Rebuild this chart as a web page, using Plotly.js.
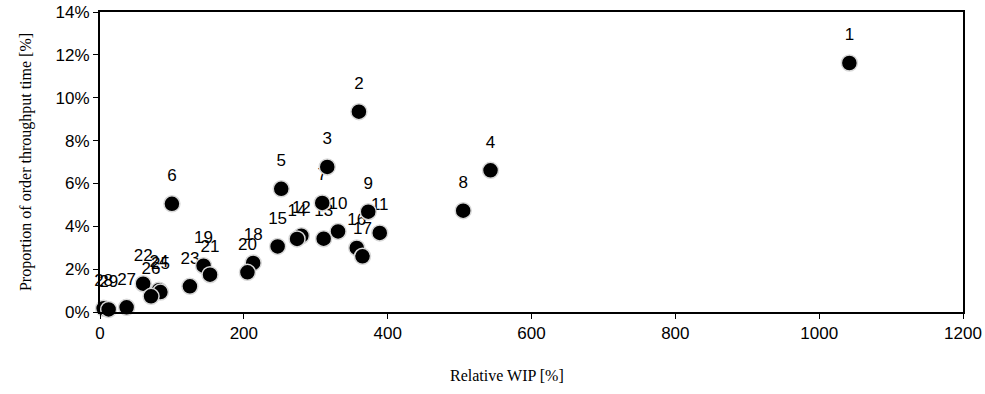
<!DOCTYPE html>
<html>
<head>
<meta charset="utf-8">
<script src="https://cdn.plot.ly/plotly-3.0.1.min.js"></script>
<style>html,body{margin:0;padding:0;background:#fff;}#chart{width:985px;height:394px;}</style>
</head>
<body>
<div id="chart"></div>
<script>
const labels = ['1','2','3','4','5','6','7','8','9','10','11','12','13','14','15','16','17','18','19','20','21','22','23','24','25','26','27','28','29'];
const relativeWip = [1042, 360, 316, 543, 252, 100, 309, 505, 373, 331, 389, 280, 311, 274, 247, 357, 365, 213, 144, 205, 153, 60, 125, 82, 84, 71, 37, 5, 12];
const throughputShare = [11.62, 9.35, 6.77, 6.61, 5.75, 5.05, 5.09, 4.73, 4.68, 3.76, 3.69, 3.56, 3.42, 3.41, 3.06, 2.99, 2.60, 2.29, 2.16, 1.85, 1.74, 1.32, 1.20, 1.02, 0.93, 0.73, 0.22, 0.17, 0.12];
const xTicks = [0, 200, 400, 600, 800, 1000, 1200];
const yTicks = [0, 2, 4, 6, 8, 10, 12, 14];

const sans = 'Liberation Sans, Arial, sans-serif';
const serif = 'Liberation Serif, Times New Roman, serif';

const labelTrace = {
  x: relativeWip, y: throughputShare, text: labels,
  type: 'scatter', mode: 'markers+text',
  textposition: 'top center',
  textfont: {family: sans, size: 17, color: '#000'},
  marker: {size: 28, color: 'rgba(0,0,0,0)', line: {width: 0}},
  cliponaxis: false, hoverinfo: 'skip', showlegend: false
};
const pointTrace = {
  x: relativeWip, y: throughputShare,
  type: 'scatter', mode: 'markers',
  marker: {size: 16, color: '#000', line: {color: '#d8d8d8', width: 1.5}},
  cliponaxis: false, showlegend: false
};

const layout = {
  width: 985, height: 394,
  margin: {l: 100, r: 22, t: 12, b: 82},
  paper_bgcolor: '#fff', plot_bgcolor: '#fff',
  showlegend: false,
  xaxis: {
    range: [0, 1200], tickvals: xTicks, ticktext: xTicks.map(String),
    showgrid: false, zeroline: false,
    showline: true, linecolor: '#000', linewidth: 2, mirror: true,
    ticks: 'outside', ticklen: 5, tickcolor: '#000', tickwidth: 1,
    tickfont: {family: sans, size: 17, color: '#000'}
  },
  yaxis: {
    range: [0, 14], tickvals: yTicks, ticktext: yTicks.map(v => v + '%'),
    showgrid: false, zeroline: false,
    showline: true, linecolor: '#000', linewidth: 2, mirror: true,
    ticks: 'outside', ticklen: 5, tickcolor: '#000', tickwidth: 1,
    tickfont: {family: sans, size: 17, color: '#000'},
    title: {text: 'Proportion of order throughput time [%]', font: {family: serif, size: 16, color: '#000'}, standoff: 20}
  },
  annotations: [{
    text: 'Relative WIP [%]', xref: 'paper', yref: 'paper',
    x: 0.4716, y: -0.21, xanchor: 'center', yanchor: 'middle',
    showarrow: false, font: {family: serif, size: 16, color: '#000'}
  }]
};

Plotly.newPlot('chart', [labelTrace, pointTrace], layout, {displayModeBar: false, staticPlot: true});
</script>
</body>
</html>
